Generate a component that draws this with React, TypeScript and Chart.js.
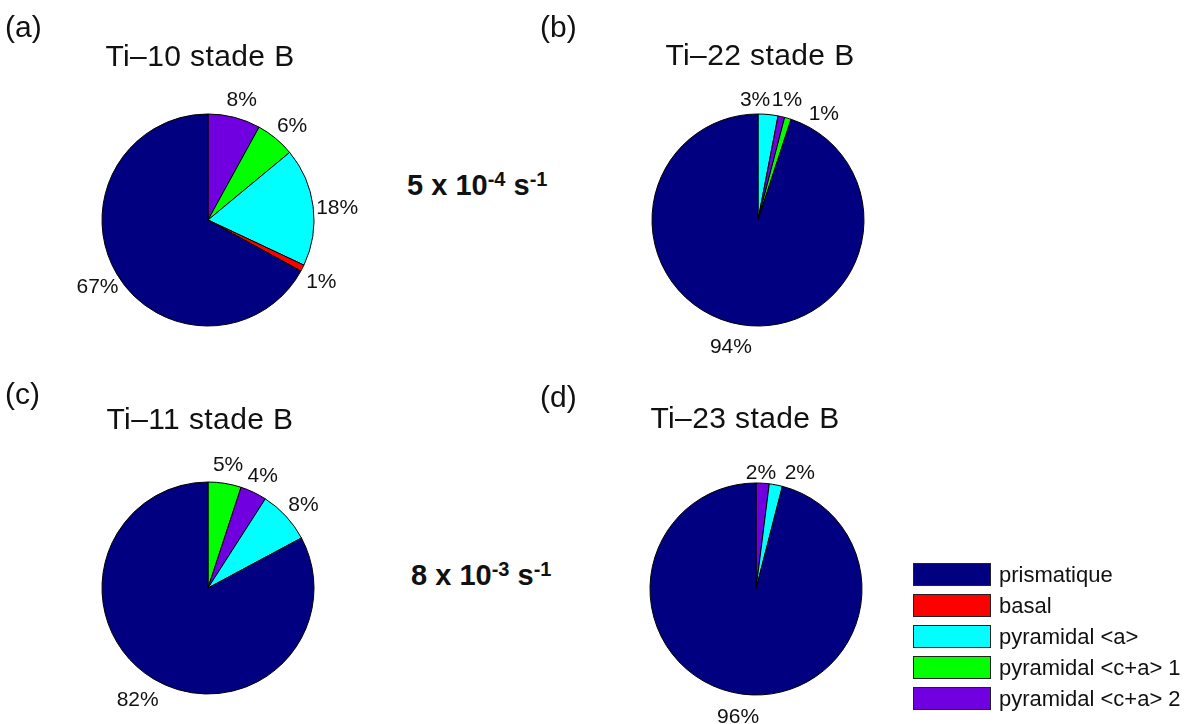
import React, { useEffect, useRef } from 'react';
import { Chart, registerables } from 'chart.js';

Chart.register(...registerables);

// ---------- data ----------
const slipSystems = ['prismatique', 'basal', 'pyramidal <a>', 'pyramidal <c+a> 1', 'pyramidal <c+a> 2'];
const slipColors = ['#000080', '#ff0000', '#00ffff', '#00ff00', '#7000e0'];

const panelTags = ['(a)', '(b)', '(c)', '(d)'];
const panelTitles = ['Ti–10 stade B', 'Ti–22 stade B', 'Ti–11 stade B', 'Ti–23 stade B'];

// slices listed clockwise from 12 o'clock
const ti10Systems = ['pyramidal <c+a> 2', 'pyramidal <c+a> 1', 'pyramidal <a>', 'basal', 'prismatique'];
const ti10Values = [8, 6, 18, 1, 67];
const ti22Systems = ['pyramidal <a>', 'pyramidal <c+a> 2', 'pyramidal <c+a> 1', 'prismatique'];
const ti22Values = [3, 1, 1, 94];
const ti11Systems = ['pyramidal <c+a> 1', 'pyramidal <c+a> 2', 'pyramidal <a>', 'prismatique'];
const ti11Values = [5, 4, 8, 82];
const ti23Systems = ['pyramidal <c+a> 2', 'pyramidal <a>', 'prismatique'];
const ti23Values = [2, 2, 96];

const rateMantissa = ['5', '8'];
const rateExponent = ['-4', '-3'];

// ---------- layout (positions / styles only) ----------
const FONT = '"Liberation Sans", Arial, Helvetica, sans-serif';
const PIE_R = 106;
const CW = 340;
const CH = 320;
const pieCenters = [
  [208, 220],
  [758, 220],
  [208, 588],
  [756, 589],
];
const labelNudges = [
  [[2, 3], [3, 4], [3, 4], [0, 4], [-1, 2]],
  [[-15, 7], [1, 4], [30, 16], [-7, 2]],
  [[0, 3], [0, 3], [2, 4], [-5, 3]],
  [[-3, 11], [20, 9], [-2, 2]],
];
const titlePos = [
  [200, 66],
  [760, 65],
  [200, 429],
  [745, 428],
];
const tagPos = [
  [5, 37],
  [540, 37],
  [5, 404],
  [540, 407],
];
const ratePos = [
  [407, 196],
  [411, 586],
];

const baseTop = (baseline: number, fs: number) => baseline - 0.8465 * fs;

const panels = [
  { systems: ti10Systems, values: ti10Values },
  { systems: ti22Systems, values: ti22Values },
  { systems: ti11Systems, values: ti11Values },
  { systems: ti23Systems, values: ti23Values },
];

function makeLabelPlugin(nudges: number[][]) {
  return {
    id: 'pctLabels',
    afterDatasetsDraw(chart: any) {
      const ctx = chart.ctx;
      const meta = chart.getDatasetMeta(0);
      const values = chart.data.datasets[0].data as number[];
      ctx.save();
      ctx.font = `21px ${FONT}`;
      ctx.fillStyle = '#111';
      ctx.textAlign = 'center';
      ctx.textBaseline = 'middle';
      meta.data.forEach((arc: any, i: number) => {
        const p = arc.getProps(['x', 'y', 'startAngle', 'endAngle', 'outerRadius'], true);
        const mid = (p.startAngle + p.endAngle) / 2;
        const n = nudges[i] || [0, 0];
        const lx = p.x + Math.cos(mid) * p.outerRadius * 1.2 + n[0];
        const ly = p.y + Math.sin(mid) * p.outerRadius * 1.2 + n[1];
        ctx.fillText(`${values[i]}%`, lx, ly);
      });
      ctx.restore();
    },
  };
}

function PiePanel({ idx }: { idx: number }) {
  const ref = useRef<HTMLCanvasElement | null>(null);
  useEffect(() => {
    if (!ref.current) return;
    const { systems, values } = panels[idx];
    const colors = systems.map((s) => slipColors[slipSystems.indexOf(s)]);
    const chart = new Chart(ref.current, {
      type: 'pie',
      data: {
        labels: systems,
        datasets: [
          {
            data: values,
            backgroundColor: colors,
            borderColor: '#000',
            borderWidth: 1,
          },
        ],
      },
      options: {
        responsive: false,
        animation: false,
        events: [],
        radius: PIE_R,
        layout: { padding: 0 },
        plugins: {
          legend: { display: false },
          tooltip: { enabled: false },
          title: { display: false },
        },
      } as any,
      plugins: [makeLabelPlugin(labelNudges[idx])],
    });
    return () => chart.destroy();
  }, [idx]);
  const [cx, cy] = pieCenters[idx];
  return (
    <canvas
      ref={ref}
      width={CW}
      height={CH}
      style={{ position: 'absolute', left: cx - CW / 2, top: cy - CH / 2, width: CW, height: CH }}
    />
  );
}

export default function App() {
  return (
    <div
      style={{
        position: 'fixed',
        left: 0,
        top: 0,
        width: 1189,
        height: 724,
        overflow: 'hidden',
        background: '#fff',
        fontFamily: FONT,
        color: '#000',
      }}
    >
      {panels.map((_, i) => (
        <PiePanel key={`pie${i}`} idx={i} />
      ))}
      {panelTitles.map((t, i) => (
        <div
          key={`title${i}`}
          style={{
            position: 'absolute',
            left: titlePos[i][0] - 200,
            width: 400,
            top: baseTop(titlePos[i][1], 30),
            fontSize: 30,
            lineHeight: '30px',
            letterSpacing: '0.4px',
            textAlign: 'center',
            whiteSpace: 'nowrap',
            color: '#111',
          }}
        >
          {t}
        </div>
      ))}
      {panelTags.map((t, i) => (
        <div
          key={`tag${i}`}
          style={{
            position: 'absolute',
            left: tagPos[i][0],
            top: baseTop(tagPos[i][1], 30),
            fontSize: 30,
            lineHeight: '30px',
            whiteSpace: 'nowrap',
            color: '#111',
          }}
        >
          {t}
        </div>
      ))}
      {rateMantissa.map((m, i) => (
        <div
          key={`rate${i}`}
          style={{
            position: 'absolute',
            left: ratePos[i][0],
            top: baseTop(ratePos[i][1], 29),
            fontSize: 29,
            lineHeight: '29px',
            fontWeight: 'bold',
            whiteSpace: 'nowrap',
            color: '#111',
          }}
        >
          {m} x 10
          <span style={{ fontSize: 20, position: 'relative', top: -9 }}>{rateExponent[i]}</span> s
          <span style={{ fontSize: 20, position: 'relative', top: -9 }}>-1</span>
        </div>
      ))}
      <div style={{ position: 'absolute', left: 913, top: 563 }}>
        {slipSystems.map((s, i) => (
          <div key={`leg${i}`} style={{ display: 'flex', alignItems: 'center', height: 23, marginBottom: 8 }}>
            <div
              style={{
                width: 76,
                height: 21,
                background: slipColors[i],
                border: '1px solid #222',
              }}
            />
            <div style={{ marginLeft: 8, fontSize: 22, lineHeight: '22px', whiteSpace: 'nowrap', color: '#111' }}>
              {s}
            </div>
          </div>
        ))}
      </div>
    </div>
  );
}
